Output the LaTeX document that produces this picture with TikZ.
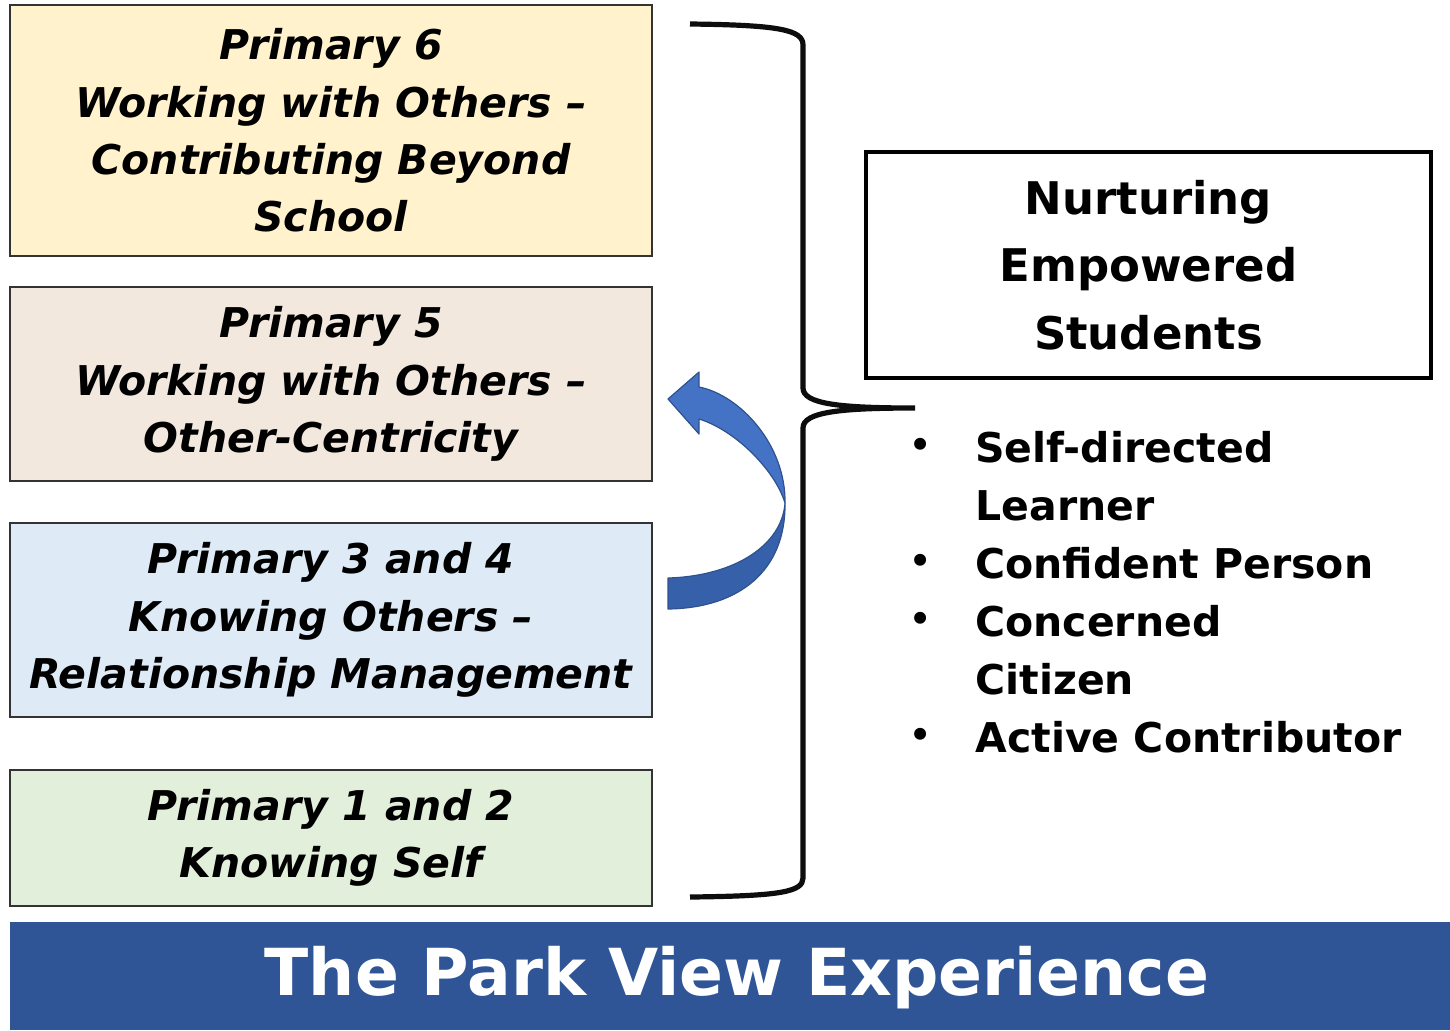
\documentclass[tikz,border=0pt]{standalone}
\usepackage{fontspec}
\setmainfont{DejaVu Sans}
\begin{document}
\begin{tikzpicture}[x=0.5pt,y=-0.5pt,
  stage/.style={draw=black!80,line width=0.75pt,minimum width=321pt,inner sep=0pt,align=center,
    font=\fontsize{20.5}{28.7}\selectfont\bfseries\itshape},
  item/.style={anchor=north west,inner sep=0pt,align=left,font=\fontsize{20.5}{29}\selectfont\bfseries},
  dot/.style={inner sep=0pt,font=\fontsize{20.5}{29}\selectfont}]
\definecolor{pyellow}{HTML}{FFF2CC}
\definecolor{pbeige}{HTML}{F2E8DE}
\definecolor{pblue}{HTML}{DEEBF7}
\definecolor{pgreen}{HTML}{E2EFDA}
\definecolor{banner}{HTML}{2F5597}
\definecolor{arrowlight}{HTML}{4472C4}
\definecolor{arrowdark}{HTML}{3660AA}
\definecolor{arrowline}{HTML}{2F528F}
\useasboundingbox (0,0) rectangle (1450,1030);

% stage boxes
\node[stage,fill=pyellow,minimum height=125.5pt] (p6) at (331,130.5)
  {Primary 6\\Working with Others --\\Contributing Beyond\\School};
\node[stage,fill=pbeige,minimum height=97pt] (p5) at (331,384)
  {Primary 5\\Working with Others --\\Other-Centricity};
\node[stage,fill=pblue,minimum height=97pt] (p34) at (331,620)
  {Primary 3 and 4\\Knowing Others --\\Relationship Management};
\node[stage,fill=pgreen,minimum height=68pt] (p12) at (331,838)
  {Primary 1 and 2\\Knowing Self};

% curved arrow
\fill[arrowdark,draw=arrowline,line width=0.6pt,line join=round]
  (785,503) .. controls (786,570) and (740,608) .. (668,609)
  -- (668,578) .. controls (735,576) and (782,545) .. (785,503) -- cycle;
\fill[arrowlight,draw=arrowline,line width=0.6pt,line join=round]
  (668,399) -- (699,372) -- (699,387)
  .. controls (740,395) and (786,445) .. (785,503)
  .. controls (775,470) and (735,430) .. (699,419)
  -- (699,434) -- cycle;

% brace
\coordinate (btop) at (690,24);
\coordinate (btip) at (915,408);
\coordinate (bbot) at (690,897);
\draw[line width=2.6pt,black!95]
  (btop) .. controls (780,25) and (803,30) .. (803,45) -- (803,388)
  .. controls (803,404) and (840,408) .. (btip)
  .. controls (840,408) and (803,412) .. (803,428) -- (803,878)
  .. controls (803,892) and (780,896) .. (bbot);

% nurturing box
\node[draw=black,line width=2pt,minimum width=282.5pt,minimum height=113pt,inner sep=0pt,
  align=center,font=\fontsize{22.5}{33.75}\selectfont\bfseries] (nes) at (1148.5,265)
  {Nurturing\\Empowered\\Students};

% bullet list
\node[dot] (d1) at (921,449) {•};
\node[dot] (d2) at (921,565) {•};
\node[dot] (d3) at (921,623) {•};
\node[dot] (d4) at (921,739) {•};
\node[item] (i1) at (975,421.4) {\strut Self-directed\\Learner};
\node[item] (i2) at (975,537.4) {\strut Confident Person};
\node[item] (i3) at (975,595.4) {\strut Concerned\\Citizen};
\node[item] (i4) at (975,711.4) {\strut Active Contributor};

% banner
\node[fill=banner,minimum width=720pt,minimum height=54pt,inner sep=0pt] (ban) at (730,976) {};
\node[inner sep=0pt,text=white,font=\fontsize{32.4}{38}\selectfont\bfseries] (bantext) at (737,978)
  {The Park View Experience};
\end{tikzpicture}
\end{document}
